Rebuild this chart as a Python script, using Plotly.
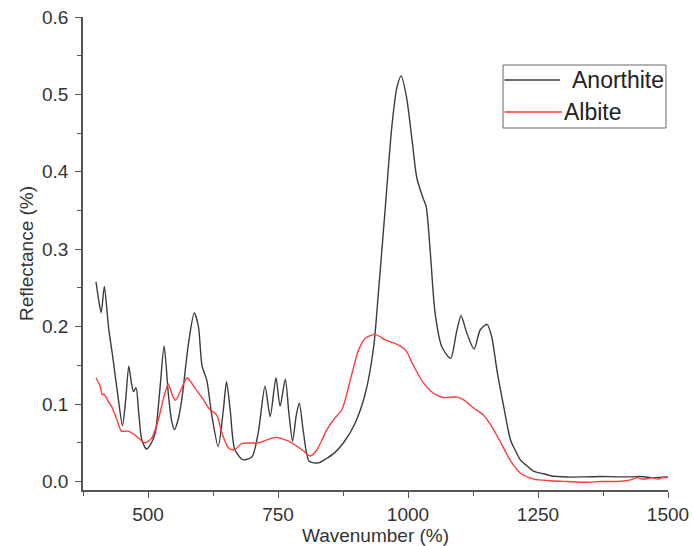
import plotly.graph_objects as go

# Anorthite series
anorthite_wn = [400, 405, 410, 416, 424, 433, 443, 451, 457, 463, 468, 472, 477, 482, 488, 497, 505, 514,
                523, 531, 539, 545, 551, 558, 565, 578, 589, 597, 604, 613, 623, 635, 645, 651, 658, 667,
                683, 700, 712, 725, 735, 746, 754, 764, 771, 778, 785, 791, 799, 810, 828, 844, 857, 876,
                898, 918, 934, 943, 956, 969, 979, 987, 997, 1008, 1017, 1029, 1035, 1043, 1052, 1065,
                1082, 1093, 1102, 1113, 1127, 1139, 1152, 1161, 1171, 1184, 1197, 1208, 1216, 1229, 1242,
                1261, 1274, 1306, 1340, 1370, 1402, 1430, 1447, 1470, 1500]
anorthite_r = [0.258, 0.235, 0.218, 0.252, 0.200, 0.157, 0.106, 0.072, 0.105, 0.149, 0.128, 0.116, 0.121,
               0.090, 0.054, 0.042, 0.048, 0.063, 0.120, 0.175, 0.114, 0.080, 0.067, 0.080, 0.106, 0.179,
               0.218, 0.200, 0.149, 0.131, 0.084, 0.045, 0.093, 0.129, 0.093, 0.041, 0.028, 0.032, 0.063,
               0.123, 0.084, 0.134, 0.097, 0.132, 0.088, 0.052, 0.085, 0.101, 0.063, 0.026, 0.024, 0.030,
               0.036, 0.050, 0.075, 0.114, 0.174, 0.243, 0.351, 0.459, 0.510, 0.524, 0.497, 0.440, 0.392,
               0.366, 0.355, 0.295, 0.218, 0.174, 0.159, 0.192, 0.214, 0.192, 0.171, 0.196, 0.203, 0.187,
               0.144, 0.097, 0.054, 0.038, 0.028, 0.020, 0.013, 0.010, 0.0074, 0.0057, 0.006, 0.0065,
               0.006, 0.006, 0.0065, 0.005, 0.006]

# Albite series
albite_wn = [400, 408, 412, 415, 424, 430, 440, 449, 462, 475, 494, 507, 520, 530, 539, 547, 553, 565, 575,
             590, 606, 619, 632, 642, 655, 667, 680, 712, 745, 770, 796, 812, 825, 844, 857, 873, 889, 905,
             918, 937, 956, 979, 995, 1011, 1030, 1049, 1068, 1094, 1107, 1126, 1145, 1161, 1177, 1197,
             1216, 1242, 1274, 1306, 1344, 1370, 1402, 1428, 1440, 1450, 1460, 1470, 1480, 1490, 1500]
albite_r = [0.134, 0.123, 0.112, 0.113, 0.103, 0.097, 0.080, 0.065, 0.065, 0.060, 0.050, 0.056, 0.080,
            0.108, 0.126, 0.111, 0.105, 0.121, 0.134, 0.121, 0.106, 0.093, 0.086, 0.063, 0.043, 0.041,
            0.049, 0.050, 0.057, 0.052, 0.041, 0.033, 0.041, 0.067, 0.080, 0.093, 0.131, 0.170, 0.185,
            0.190, 0.183, 0.177, 0.170, 0.149, 0.127, 0.114, 0.1085, 0.109, 0.1055, 0.095, 0.086, 0.071,
            0.052, 0.027, 0.011, 0.003, 0.001, 0.0, -0.001, 0.0, 0.0, 0.002, 0.005, 0.003, 0.0035, 0.005,
            0.003, 0.005, 0.005]

series_names = ["Anorthite", "Albite"]
series_colors = ["#3c3c3c", "#ff3b3b"]

FONT = "Liberation Sans, Arial, sans-serif"

fig = go.Figure()
fig.add_trace(go.Scatter(x=anorthite_wn, y=anorthite_r, mode="lines", name=series_names[0],
                         line=dict(color=series_colors[0], width=1.4, shape="spline", smoothing=0.7)))
fig.add_trace(go.Scatter(x=albite_wn, y=albite_r, mode="lines", name=series_names[1],
                         line=dict(color=series_colors[1], width=1.4, shape="spline", smoothing=0.7)))

axis_common = dict(showline=True, linecolor="#555555", linewidth=1.5, ticks="outside",
                   tickcolor="#555555", ticklen=6, tickwidth=1.2, showgrid=False, zeroline=False,
                   tickfont=dict(family=FONT, size=19, color="#333333"),
                   mirror=False, automargin=False)

fig.update_xaxes(range=[375, 1500], tick0=500, dtick=250,
                 title=dict(text="Wavenumber (%)", font=dict(family=FONT, size=19, color="#333333"),
                            standoff=1),
                 minor=dict(ticks="outside", dtick=125, tick0=375, ticklen=4, tickcolor="#555555"),
                 **axis_common)
fig.update_yaxes(range=[-0.011, 0.6], tick0=0, dtick=0.1, tickformat=".1f",
                 ticklabelstandoff=3,
                 title=dict(text="Reflectance (%)", font=dict(family=FONT, size=19, color="#333333"),
                            standoff=3),
                 minor=dict(ticks="outside", dtick=0.05, ticklen=4, tickcolor="#555555"),
                 **axis_common)

# Manual legend (box, line samples, labels) in paper coordinates
fig.add_shape(type="rect", xref="paper", yref="paper", x0=0.718, x1=0.9966, y0=0.7653, y1=0.8985,
              line=dict(color="#666666", width=1), fillcolor="white", layer="above")
legend_y = [0.8668, 0.7992]
legend_line_x1 = [0.8154, 0.8188]
legend_text_x = [0.8325, 0.8188]
for i in range(2):
    fig.add_shape(type="line", xref="paper", yref="paper", x0=0.7205, x1=legend_line_x1[i],
                  y0=legend_y[i], y1=legend_y[i], line=dict(color=series_colors[i], width=1.4),
                  layer="above")
    fig.add_annotation(xref="paper", yref="paper", x=legend_text_x[i], y=legend_y[i],
                       xanchor="left", yanchor="middle", text=series_names[i], showarrow=False,
                       font=dict(family=FONT, size=23, color="#222222"))

fig.update_layout(
    width=694, height=546,
    margin=dict(l=83, r=26, t=17, b=56),
    paper_bgcolor="white", plot_bgcolor="white",
    showlegend=False,
)

fig.write_html("out.html")
